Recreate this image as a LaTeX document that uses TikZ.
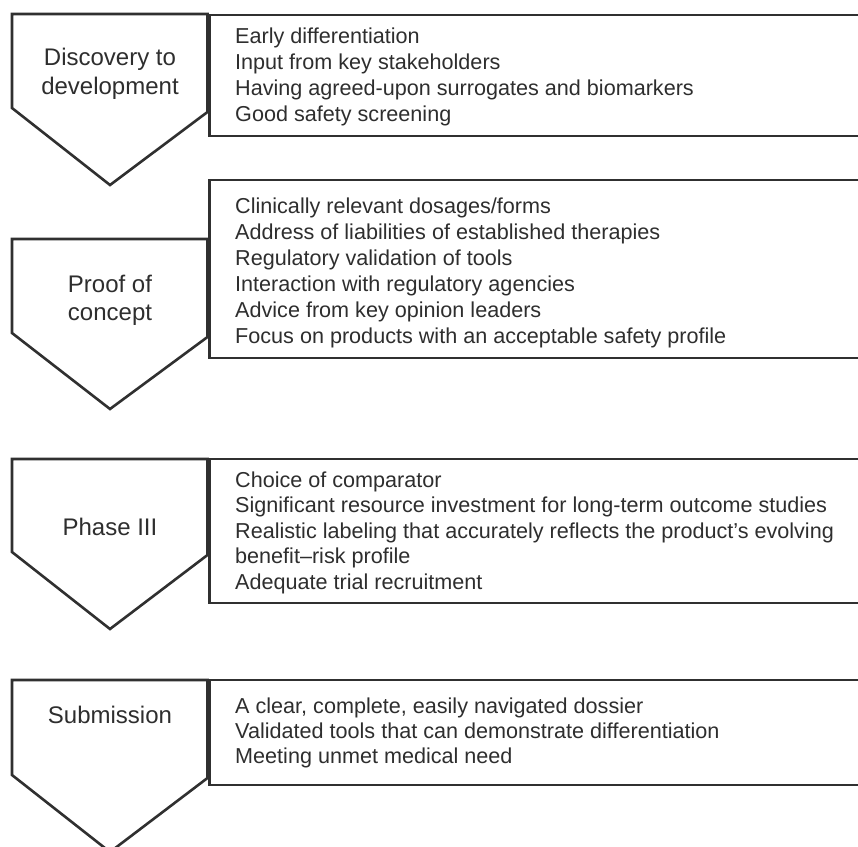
\documentclass[tikz,border=0pt]{standalone}
\usepackage{fontspec}
\setmainfont{Liberation Sans}
\definecolor{ink}{HTML}{303030}
\definecolor{txt}{HTML}{2E2E2E}
\begin{document}
\begin{tikzpicture}[x=1pt,y=-1pt,
  shapeline/.style={draw=ink,line width=2.6pt,line join=miter,fill=white},
  itemtext/.style={anchor=base west,inner sep=0pt,text=txt,font=\fontsize{21.6}{26}\selectfont},
  labeltext/.style={anchor=base,inner sep=0pt,text=txt,font=\fontsize{24}{29}\selectfont}]
\useasboundingbox (0,0) rectangle (858,846);
\begin{scope}
\clip (0,0) rectangle (858,846);
% stage 1
\draw[shapeline] (12,14) -- (12,108) -- (110,185) -- (207.5,112) -- (207.5,14) -- cycle;
\draw[shapeline] (209.5,15) rectangle (875,136);
% stage 2
\draw[shapeline] (12,239) -- (12,333) -- (110,409) -- (207.5,337) -- (207.5,239) -- cycle;
\draw[shapeline] (209.5,180) rectangle (875,358);
% stage 3
\draw[shapeline] (12,459) -- (12,552) -- (110,629) -- (207.5,555) -- (207.5,459) -- cycle;
\draw[shapeline] (209.5,459) rectangle (875,603);
% stage 4
\draw[shapeline] (12,680) -- (12,775) -- (110,852) -- (207.5,778) -- (207.5,680) -- cycle;
\draw[shapeline] (209.5,680) rectangle (875,785);
\end{scope}
% labels
\node[labeltext] (l1a) at (110,65) {Discovery to};
\node[labeltext] (l1b) at (110,94) {development};
\node[labeltext] (l2a) at (110,292) {Proof of};
\node[labeltext] (l2b) at (110,320.5) {concept};
\node[labeltext] (l3) at (110,535) {Phase III};
\node[labeltext] (l4) at (110,723) {Submission};
% box texts
\foreach \t [count=\i] in {Early differentiation,Input from key stakeholders,Having agreed-upon surrogates and biomarkers,Good safety screening}
  \node[itemtext] (ba\i) at (235,{43+26*(\i-1)}) {\t};
\foreach \t [count=\i] in {Clinically relevant dosages/forms,Address of liabilities of established therapies,Regulatory validation of tools,Interaction with regulatory agencies,Advice from key opinion leaders,Focus on products with an acceptable safety profile}
  \node[itemtext] (bb\i) at (235,{213+26*(\i-1)}) {\t};
\foreach \t [count=\i] in {Choice of comparator,Significant resource investment for long-term outcome studies,Realistic labeling that accurately reflects the product's evolving,benefit--risk profile,Adequate trial recruitment}
  \node[itemtext] (bc\i) at (235,{487+25.5*(\i-1)}) {\t};
\foreach \t [count=\i] in {{A clear, complete, easily navigated dossier},Validated tools that can demonstrate differentiation,Meeting unmet medical need}
  \node[itemtext] (bd\i) at (235,{713+25*(\i-1)}) {\t};
\end{tikzpicture}
\end{document}
